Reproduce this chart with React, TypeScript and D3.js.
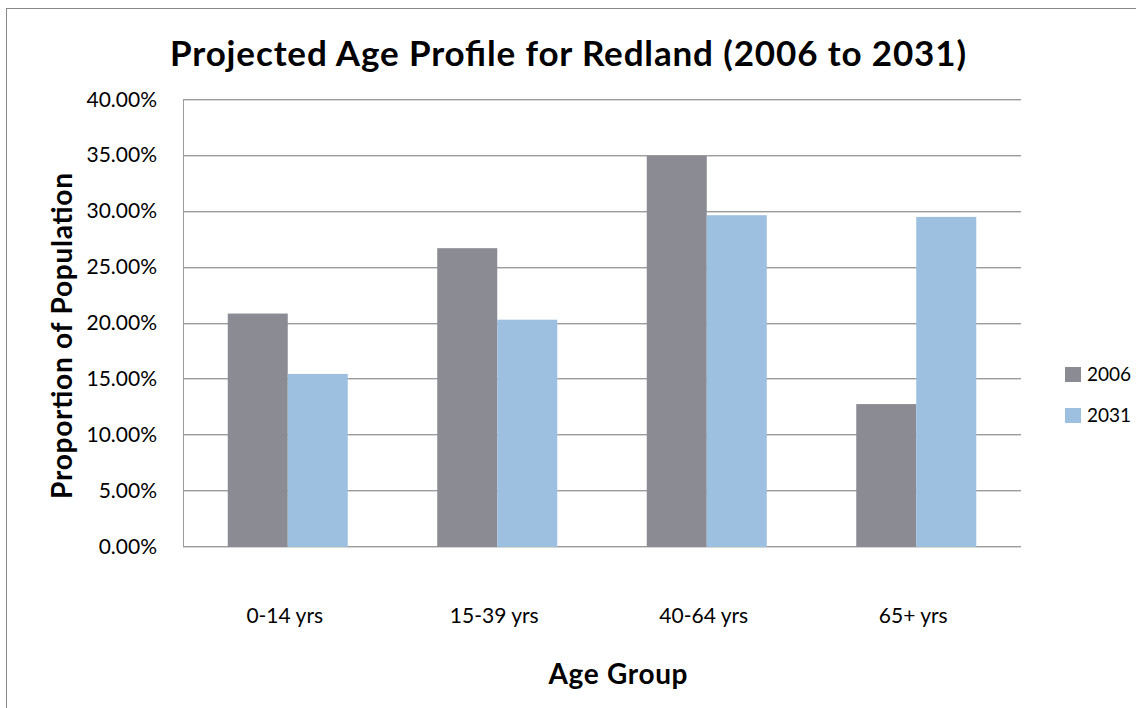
import React from "react";
import * as d3 from "d3";

const categories = ["0-14 yrs", "15-39 yrs", "40-64 yrs", "65+ yrs"];
const seriesNames = ["2006", "2031"];
const values2006 = [20.8, 26.65, 34.9, 12.7];
const values2031 = [15.4, 20.25, 29.6, 29.45];
const yTicks = [0, 5, 10, 15, 20, 25, 30, 35, 40];
const colors = ["#8B8B94", "#9DBFE0"];

const W = 1136;
const H = 708;
const plot = { left: 183, right: 1021, top: 99, bottom: 546 };
const FONT = "Lato, 'Open Sans', sans-serif";

export default function App() {
  const x0 = d3
    .scaleBand<string>()
    .domain(categories)
    .range([plot.left, plot.right])
    .paddingInner(0)
    .paddingOuter(0);
  const groupWidth = 120;
  const x1 = d3
    .scaleBand<string>()
    .domain(seriesNames)
    .range([0, groupWidth])
    .padding(0);
  const y = d3.scaleLinear().domain([0, 40]).range([plot.bottom, plot.top]);
  const series = [values2006, values2031];

  return (
    <svg
      width={W}
      height={H}
      style={{ position: "absolute", left: 0, top: 0, background: "#fff" }}
    >
      <rect x={0} y={0} width={W} height={H} fill="#fff" />
      <rect
        x={6.5}
        y={8.5}
        width={W + 20}
        height={H + 20}
        fill="none"
        stroke="#888"
        strokeWidth={1}
      />
      <text
        x={568}
        y={66}
        textAnchor="middle"
        fontFamily={FONT}
        fontWeight="bold"
        fontSize={35}
        textLength={796}
        lengthAdjust="spacing"
        fill="#000"
      >
        Projected Age Profile for Redland (2006 to 2031)
      </text>

      {yTicks.map((t) => (
        <g key={t}>
          <line
            x1={plot.left}
            x2={plot.right}
            y1={Math.round(y(t)) + 1.5}
            y2={Math.round(y(t)) + 1.5}
            stroke="#d6d6d6"
            strokeWidth={1}
          />
          <line
            x1={plot.left}
            x2={plot.right}
            y1={Math.round(y(t)) + 0.5}
            y2={Math.round(y(t)) + 0.5}
            stroke="#9c9c9c"
            strokeWidth={1}
          />
          <text
            x={157}
            y={y(t)}
            dy="0.36em"
            textAnchor="end"
            fontFamily={FONT}
            fontSize={21}
            fill="#000"
          >
            {t.toFixed(2) + "%"}
          </text>
        </g>
      ))}
      <line
        x1={plot.left + 0.5}
        x2={plot.left + 0.5}
        y1={plot.top}
        y2={plot.bottom + 1}
        stroke="#9c9c9c"
        strokeWidth={1}
      />

      {categories.map((c, i) => {
        const gx = (x0(c) as number) + (x0.bandwidth() - groupWidth) / 2;
        return (
          <g key={c}>
            {seriesNames.map((s, j) => (
              <rect
                key={s}
                x={gx + (x1(s) as number)}
                y={y(series[j][i])}
                width={x1.bandwidth()}
                height={y(0) - y(series[j][i]) + 1}
                fill={colors[j]}
              />
            ))}
            <text
              x={(x0(c) as number) + x0.bandwidth() / 2 - 3}
              y={623}
              textAnchor="middle"
              fontFamily={FONT}
              fontSize={21}
              fill="#000"
            >
              {c}
            </text>
          </g>
        );
      })}

      <text
        x={618}
        y={684}
        textAnchor="middle"
        fontFamily={FONT}
        fontWeight="bold"
        fontSize={28}
        textLength={139}
        lengthAdjust="spacing"
        fill="#000"
      >
        Age Group
      </text>
      <text
        transform={`translate(72,336) rotate(-90)`}
        textAnchor="middle"
        fontFamily={FONT}
        fontWeight="bold"
        fontSize={28}
        textLength={326}
        lengthAdjust="spacing"
        fill="#000"
      >
        Proportion of Population
      </text>

      {seriesNames.map((s, j) => (
        <g key={s}>
          <rect
            x={1065}
            y={367 + j * 41}
            width={16}
            height={15}
            fill={colors[j]}
          />
          <text
            x={1087}
            y={374.5 + j * 41}
            dy="0.36em"
            fontFamily={FONT}
            fontSize={19}
            fill="#000"
          >
            {s}
          </text>
        </g>
      ))}
    </svg>
  );
}
